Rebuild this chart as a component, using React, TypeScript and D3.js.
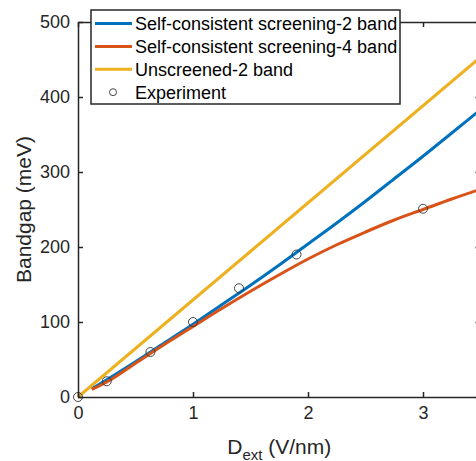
import * as d3 from 'd3';
import React, { useEffect, useRef } from 'react';

// field values (V/nm) and bandgaps (meV)
const blueX = [0.12, 0.25, 0.5, 0.75, 1, 1.25, 1.5, 1.75, 2, 2.25, 2.5, 2.75, 3, 3.25, 3.5];
const blueY = [11, 23, 47, 72, 97, 123, 149, 176, 204, 232, 261, 291, 321, 352, 383];
const orangeX = [0.12, 0.25, 0.5, 0.75, 1, 1.25, 1.5, 1.75, 2, 2.25, 2.5, 2.75, 3, 3.25, 3.5];
const orangeY = [10, 20, 45, 70, 94, 118, 141, 163, 184, 203, 220, 236, 250, 264, 277];
const yellowX = [0, 3.5];
const yellowY = [0, 453];
const expX = [0, 0.25, 0.63, 1, 1.4, 1.9, 3];
const expY = [0, 21, 60, 100, 145, 190, 251];

const legendLabels = [
    'Self-consistent screening-2 band',
    'Self-consistent screening-4 band',
    'Unscreened-2 band',
    'Experiment',
];
const colors = ['#0072BD', '#D95319', '#EDB120'];
const xTicks = [0, 1, 2, 3];
const yTicks = [0, 100, 200, 300, 400, 500];

function App() {
    const chartRef = useRef(null);

    useEffect(() => {
        const root = d3.select(chartRef.current);
        root.selectAll('*').remove();

        const svg = root.append('svg')
            .attr('width', 476)
            .attr('height', 461)
            .style('position', 'absolute')
            .style('left', 0)
            .style('top', 0)
            .style('font-family', '"Liberation Sans", Arial, sans-serif');

        const x = d3.scaleLinear().domain([0, 3.5]).range([78, 480.5]);
        const y = d3.scaleLinear().domain([0, 500]).range([397, 22]);
        const ink = '#262626';

        // series lines
        const line = d3.line<number>()
            .x(d => x(d[0]))
            .y(d => y(d[1]))
            .curve(d3.curveMonotoneX);
        const series = [
            d3.zip(blueX, blueY),
            d3.zip(orangeX, orangeY),
            d3.zip(yellowX, yellowY),
        ];
        series.forEach((pts, i) => {
            svg.append('path')
                .datum(pts)
                .attr('d', line as any)
                .attr('fill', 'none')
                .attr('stroke', colors[i])
                .attr('stroke-width', 3);
        });

        // experiment markers
        svg.selectAll('circle.exp')
            .data(d3.zip(expX, expY))
            .enter().append('circle')
            .attr('class', 'exp')
            .attr('cx', d => x(d[0]))
            .attr('cy', d => y(d[1]))
            .attr('r', 4.5)
            .attr('fill', 'none')
            .attr('stroke', '#333')
            .attr('stroke-width', 0.9);

        // box axes, ticks pointing inwards
        const styleAxis = (g, fontSize) => {
            g.selectAll('path, line').attr('stroke', ink).attr('stroke-width', 1.5);
            g.selectAll('text').attr('fill', ink).style('font-size', fontSize).attr('font-family', null);
        };
        svg.append('g')
            .attr('transform', `translate(0,${y(0)})`)
            .call(d3.axisBottom(x).tickValues(xTicks).tickFormat(d3.format('d')).tickSize(-5).tickSizeOuter(0).tickPadding(9))
            .call(g => styleAxis(g, '18px'));
        svg.append('g')
            .attr('transform', `translate(0,${y(500)})`)
            .call(d3.axisTop(x).tickValues(xTicks).tickSize(-5).tickSizeOuter(0).tickFormat(() => ''))
            .call(g => styleAxis(g, '18px'));
        svg.append('g')
            .attr('transform', `translate(${x(0)},0)`)
            .call(d3.axisLeft(y).tickValues(yTicks).tickFormat(d3.format('d')).tickSize(-5).tickSizeOuter(0).tickPadding(8))
            .call(g => styleAxis(g, '18px'));
        svg.append('g')
            .attr('transform', `translate(${x(3.5)},0)`)
            .call(d3.axisRight(y).tickValues(yTicks).tickSize(-5).tickSizeOuter(0).tickFormat(() => ''))
            .call(g => styleAxis(g, '18px'));

        // axis titles
        const xl = svg.append('text')
            .attr('x', (x(0) + x(3.5)) / 2)
            .attr('y', 454)
            .attr('text-anchor', 'middle')
            .attr('fill', ink)
            .style('font-size', '21px');
        xl.append('tspan').text('D');
        xl.append('tspan').attr('dy', 6).style('font-size', '15px').text('ext');
        xl.append('tspan').attr('dy', -6).text(' (V/nm)');

        svg.append('text')
            .attr('transform', `translate(31,${(y(0) + y(500)) / 2}) rotate(-90)`)
            .attr('text-anchor', 'middle')
            .attr('fill', ink)
            .style('font-size', '21px')
            .text('Bandgap (meV)');

        // legend
        const lg = svg.append('g');
        lg.append('rect')
            .attr('x', 91)
            .attr('y', 10)
            .attr('width', 309)
            .attr('height', 94)
            .attr('fill', 'white')
            .attr('stroke', ink)
            .attr('stroke-width', 1.5);
        legendLabels.forEach((label, i) => {
            const cy = 23.5 + i * 22.9;
            if (i < 3) {
                lg.append('line')
                    .attr('x1', 95).attr('x2', 132)
                    .attr('y1', cy).attr('y2', cy)
                    .attr('stroke', colors[i])
                    .attr('stroke-width', 3);
            } else {
                lg.append('circle')
                    .attr('cx', 113).attr('cy', cy)
                    .attr('r', 3.5)
                    .attr('fill', 'none')
                    .attr('stroke', '#333')
                    .attr('stroke-width', 0.9);
            }
            lg.append('text')
                .attr('x', 135)
                .attr('y', cy)
                .attr('dy', '0.35em')
                .attr('fill', 'black')
                .style('font-size', '18px')
                .text(label);
        });
    }, []);

    return <div ref={chartRef} />;
}

export default App;
